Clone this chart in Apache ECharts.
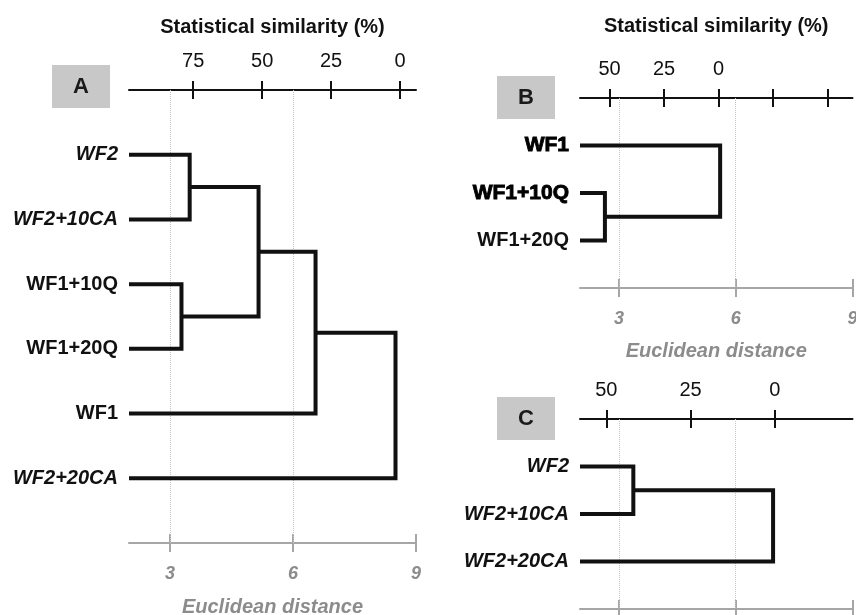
<!DOCTYPE html>
<html>
<head>
<meta charset="utf-8">
<script src="https://cdn.jsdelivr.net/npm/echarts@6/dist/echarts.min.js"></script>
<style>html,body{margin:0;padding:0;background:#fff}#c{width:856px;height:615px}</style>
</head>
<body>
<div id="c"></div>
<script>
// ---------- data ----------
const A_labels = ['WF2', 'WF2+10CA', 'WF1+10Q', 'WF1+20Q', 'WF1', 'WF2+20CA'];
// [childA, childB, Euclidean distance at merge]; clusters numbered after leaves
const A_links = [[0, 1, 3.48], [2, 3, 3.28], [6, 7, 5.16], [8, 4, 6.55], [9, 5, 8.50]];
const B_labels = ['WF1', 'WF1+10Q', 'WF1+20Q'];
const B_links = [[1, 2, 2.64], [3, 0, 5.60]];
const C_labels = ['WF2', 'WF2+10CA', 'WF2+20CA'];
const C_links = [[0, 1, 3.37], [3, 2, 6.96]];
const distTicks = [3, 6, 9];
const distGrid = [3, 6];
const A_simTicks = [75, 50, 25, 0];
const B_simTicks = [50, 25, 0, -25, -50];
const B_simLabels = [50, 25, 0];
const C_simTicks = [50, 25, 0];
const distMin = 2, distMax = 9;

// ---------- styling ----------
const FONT = 'Liberation Sans, Arial, Helvetica, sans-serif';
const INK = '#111111';
const GRAY = '#a6a6a6';
const GRAYTXT = '#8c8c8c';

const rich = {
  it: {fontFamily: FONT, fontSize: 20, fontWeight: 'bold', fontStyle: 'italic', color: INK},
  nm: {fontFamily: FONT, fontSize: 20, fontWeight: 'bold', color: INK},
  hv: {fontFamily: FONT, fontSize: 21, fontWeight: 'bold', color: '#000', textBorderColor: '#000', textBorderWidth: 0.9}
};

const grids = [], xAxes = [], yAxes = [], series = [];

function addPanel(p) {
  const gi = grids.length;
  grids.push({left: p.left, top: p.top, width: p.width, height: p.height, containLabel: false, outerBoundsMode: 'none'});
  const xb = xAxes.length;
  // bottom distance axis (outer ticks + labels)
  xAxes.push({
    type: 'value', gridIndex: gi, position: 'bottom', min: distMin, max: distMax,
    axisLine: {show: true, onZero: false, lineStyle: {color: GRAY, width: 2}},
    axisTick: {show: true, length: 9, customValues: distTicks, lineStyle: {color: GRAY, width: 2}},
    axisLabel: {show: true, customValues: distTicks, margin: 22, color: GRAYTXT, fontFamily: FONT,
      fontSize: 18, fontWeight: 'bold', fontStyle: 'italic'},
    splitLine: {show: false},
    name: 'Euclidean distance', nameLocation: 'middle', nameGap: p.botNameGap,
    nameTextStyle: {color: GRAYTXT, fontFamily: FONT, fontSize: 20, fontWeight: 'bold', fontStyle: 'italic', verticalAlign: 'middle'}
  });
  // bottom distance axis (inner ticks)
  xAxes.push({
    type: 'value', gridIndex: gi, position: 'bottom', min: distMin, max: distMax,
    axisLine: {show: false, onZero: false},
    axisTick: {show: true, inside: true, length: 9, customValues: distTicks, lineStyle: {color: GRAY, width: 2}},
    axisLabel: {show: false}, splitLine: {show: false}
  });
  // top similarity axis (outer ticks + labels)
  const topAxis = {
    type: 'value', gridIndex: gi, position: 'top', inverse: true, min: p.simMin, max: p.simMax,
    axisLine: {show: true, onZero: false, lineStyle: {color: INK, width: 2}},
    axisTick: {show: true, length: 9, customValues: p.simTicks, lineStyle: {color: INK, width: 2}},
    axisLabel: {show: true, customValues: p.simLabels, margin: 19, color: INK, fontFamily: FONT, fontSize: 20},
    splitLine: {show: false}
  };
  if (p.showTitle) {
    topAxis.name = 'Statistical similarity (%)';
    topAxis.nameLocation = 'middle';
    topAxis.nameGap = p.topNameGap;
    topAxis.nameTextStyle = {color: INK, fontFamily: FONT, fontSize: 20, fontWeight: 'bold', verticalAlign: 'middle'};
  }
  xAxes.push(topAxis);
  xAxes.push({
    type: 'value', gridIndex: gi, position: 'top', inverse: true, min: p.simMin, max: p.simMax,
    axisLine: {show: false, onZero: false},
    axisTick: {show: true, inside: true, length: 9, customValues: p.simTicks, lineStyle: {color: INK, width: 2}},
    axisLabel: {show: false}, splitLine: {show: false}
  });
  const yi = yAxes.length;
  const n = p.labels.length;
  yAxes.push({
    type: 'value', gridIndex: gi, inverse: true, min: 0, max: n + 1,
    axisLine: {show: false}, axisTick: {show: false}, splitLine: {show: false},
    axisLabel: {
      show: true, margin: 11, customValues: p.labels.map((_, i) => i + 1),
      formatter: v => {
        const i = Math.round(v) - 1;
        return '{' + p.styles[i] + '|' + p.labels[i] + '}';
      },
      rich: rich
    }
  });
  const pos = p.labels.map((_, i) => ({x: distMin, y: i + 1}));
  p.links.forEach(([a, b, h], k) => {
    const A = pos[a], B = pos[b];
    const s = {
      type: 'line', xAxisIndex: xb, yAxisIndex: yi, symbol: 'none', silent: true, animation: false,
      data: [[A.x, A.y], [h, A.y], [h, B.y], [B.x, B.y]],
      lineStyle: {color: INK, width: 4, join: 'miter', cap: 'butt'}, z: 3
    };
    if (k === 0) {
      s.markLine = {
        silent: true, animation: false, symbol: ['none', 'none'], label: {show: false}, z: 1,
        lineStyle: {type: 'dotted', color: '#c4c4c4', width: 1},
        emphasis: {disabled: true},
        data: distGrid.map(v => ({xAxis: v}))
      };
    }
    series.push(s);
    pos.push({x: h, y: (A.y + B.y) / 2});
  });
}

addPanel({left: 129, top: 90, width: 287, height: 453, labels: A_labels, links: A_links,
  styles: ['it', 'it', 'nm', 'nm', 'nm', 'it'],
  simMin: -5.8, simMax: 98.3, simTicks: A_simTicks, simLabels: A_simTicks,
  showTitle: true, topNameGap: 63, botNameGap: 64});
addPanel({left: 580, top: 98, width: 272.5, height: 190, labels: B_labels, links: B_links,
  styles: ['hv', 'hv', 'nm'],
  simMin: -61.5, simMax: 63.6, simTicks: B_simTicks, simLabels: B_simLabels,
  showTitle: true, topNameGap: 71.5, botNameGap: 63});
addPanel({left: 580, top: 419, width: 272.5, height: 190, labels: C_labels, links: C_links,
  styles: ['it', 'it', 'it'],
  simMin: -23.0, simMax: 57.8, simTicks: C_simTicks, simLabels: C_simTicks,
  showTitle: false, topNameGap: 63, botNameGap: 63});

function box(x, y, letter) {
  return {
    type: 'group', left: x, top: y, silent: true,
    children: [
      {type: 'rect', shape: {x: 0, y: 0, width: 58, height: 43}, style: {fill: '#c8c8c8'}},
      {type: 'text', x: 29, y: 22, style: {text: letter, fill: '#1a1a1a', font: 'bold 22px ' + FONT,
        textAlign: 'center', textVerticalAlign: 'middle'}}
    ]
  };
}

const chart = echarts.init(document.getElementById('c'), null, {renderer: 'canvas'});
chart.setOption({
  animation: false,
  backgroundColor: '#ffffff',
  grid: grids,
  xAxis: xAxes,
  yAxis: yAxes,
  series: series,
  graphic: [box(52, 65, 'A'), box(497, 76, 'B'), box(497, 397, 'C')]
});
</script>
</body>
</html>
